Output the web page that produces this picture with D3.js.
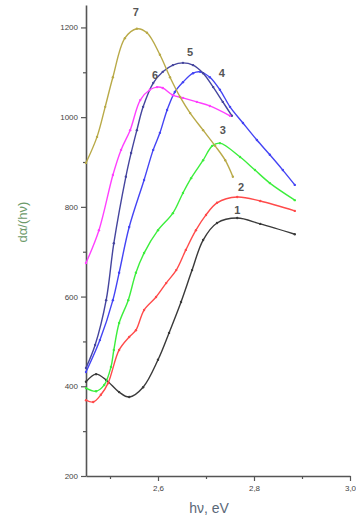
<!DOCTYPE html>
<html>
<head>
<script src="https://cdnjs.cloudflare.com/ajax/libs/d3/7.8.5/d3.min.js"></script>
<style>
  body { margin: 0; background: #fff; }
</style>
</head>
<body>
<div id="chart"></div>
<script>
// energy (eV) / dα/(hν) readings for each curve
var curveNames = ["1", "2", "3", "4", "5", "6", "7"];
var curveColors = ["#3a3a3a", "#ff4a4a", "#3cee3c", "#4444f4", "#45459e", "#ff40ff", "#b9aa48"];

var x1 = [2.450, 2.471, 2.492, 2.519, 2.540, 2.569, 2.600, 2.623, 2.648, 2.671, 2.694, 2.723, 2.765, 2.813, 2.885];
var y1 = [410, 427, 414, 387, 376, 398, 459, 519, 588, 659, 726, 764, 775, 762, 739];

var x2 = [2.450, 2.465, 2.481, 2.496, 2.519, 2.540, 2.554, 2.571, 2.596, 2.617, 2.638, 2.658, 2.679, 2.700, 2.723, 2.765, 2.813, 2.885];
var y2 = [369, 365, 381, 407, 481, 510, 525, 570, 599, 630, 659, 704, 748, 782, 809, 822, 813, 791];

var x3 = [2.450, 2.471, 2.488, 2.502, 2.508, 2.519, 2.538, 2.554, 2.571, 2.600, 2.631, 2.652, 2.669, 2.694, 2.713, 2.729, 2.771, 2.802, 2.833, 2.885];
var y3 = [396, 389, 403, 443, 481, 541, 592, 653, 697, 748, 786, 831, 864, 904, 936, 942, 911, 882, 853, 815];

var x4 = [2.450, 2.479, 2.506, 2.519, 2.540, 2.571, 2.590, 2.604, 2.619, 2.635, 2.652, 2.673, 2.688, 2.708, 2.729, 2.750, 2.777, 2.806, 2.833, 2.860, 2.885];
var y4 = [432, 503, 592, 653, 755, 860, 927, 965, 1016, 1056, 1078, 1098, 1101, 1089, 1061, 1023, 987, 949, 916, 882, 849];

var x5 = [2.450, 2.469, 2.492, 2.508, 2.533, 2.544, 2.556, 2.569, 2.590, 2.610, 2.631, 2.652, 2.673, 2.694, 2.715, 2.735, 2.754];
var y5 = [441, 492, 592, 719, 867, 920, 971, 1023, 1076, 1101, 1116, 1121, 1116, 1098, 1067, 1034, 1003];

var x6 = [2.450, 2.477, 2.506, 2.523, 2.542, 2.563, 2.583, 2.598, 2.610, 2.631, 2.652, 2.681, 2.708, 2.750];
var y6 = [675, 748, 871, 927, 971, 1038, 1061, 1067, 1065, 1049, 1043, 1034, 1025, 1003];

var x7 = [2.450, 2.473, 2.490, 2.506, 2.531, 2.556, 2.577, 2.604, 2.625, 2.646, 2.667, 2.694, 2.719, 2.740, 2.756];
var y7 = [898, 956, 1023, 1089, 1176, 1197, 1188, 1139, 1089, 1045, 1009, 971, 936, 904, 867];

// where the curve numbers sit, in data units
var labelX = [2.765, 2.773, 2.735, 2.733, 2.667, 2.594, 2.554];
var labelY = [793, 844, 971, 1098, 1145, 1094, 1234];

var xMajor = [2.6, 2.8, 3.0];
var xMinor = [2.5, 2.7, 2.9];
var yMajor = [200, 400, 600, 800, 1000, 1200];
var yMinor = [300, 500, 700, 900, 1100];

var allX = [x1, x2, x3, x4, x5, x6, x7];
var allY = [y1, y2, y3, y4, y5, y6, y7];

var width = 356, height = 527;

var x = d3.scaleLinear().domain([2.45, 3.0]).range([86, 350]);
var y = d3.scaleLinear().domain([200, 1250]).range([476, 5]);

var svg = d3.select("#chart").append("svg")
    .attr("width", width)
    .attr("height", height)
    .style("font-family", "'Liberation Sans', Arial, sans-serif");

// axes
var xAxis = svg.append("g")
    .attr("transform", "translate(0," + y(200) + ")")
    .call(d3.axisBottom(x).tickValues(xMajor).tickSize(5).tickSizeOuter(0)
        .tickFormat(function(d) { return d.toFixed(1).replace(".", ","); }));
svg.append("g")
    .attr("transform", "translate(0," + y(200) + ")")
    .call(d3.axisBottom(x).tickValues(xMinor).tickSize(3).tickFormat(""))
    .select(".domain").remove();

var yAxis = svg.append("g")
    .attr("transform", "translate(" + x(2.45) + ",0)")
    .call(d3.axisLeft(y).tickValues(yMajor).tickSize(5).tickSizeOuter(0)
        .tickFormat(d3.format("d")));
svg.append("g")
    .attr("transform", "translate(" + x(2.45) + ",0)")
    .call(d3.axisLeft(y).tickValues(yMinor).tickSize(3).tickFormat(""))
    .select(".domain").remove();

svg.selectAll(".domain").attr("stroke", "#555").attr("stroke-width", 1.6);
svg.selectAll(".tick line").attr("stroke", "#555").attr("stroke-width", 1.2);
svg.selectAll(".tick text").attr("fill", "#444").attr("font-size", "8px");
xAxis.selectAll(".tick text").attr("dy", "0.9em");

// curves
var line = d3.line()
    .x(function(d) { return x(d[0]); })
    .y(function(d) { return y(d[1]); })
    .curve(d3.curveCatmullRom);

for (var i = 0; i < curveNames.length; i++) {
  var pts = d3.zip(allX[i], allY[i]);
  svg.append("path")
      .datum(pts)
      .attr("d", line)
      .attr("fill", "none")
      .attr("stroke", curveColors[i])
      .attr("stroke-width", 1.4);

  svg.append("g").selectAll("circle")
      .data(pts)
      .enter()
      .append("circle")
      .attr("cx", function(d) { return x(d[0]); })
      .attr("cy", function(d) { return y(d[1]); })
      .attr("r", 1.2)
      .attr("fill", curveColors[i]);

  svg.append("text")
      .attr("x", x(labelX[i]))
      .attr("y", y(labelY[i]))
      .attr("dy", "0.35em")
      .attr("text-anchor", "middle")
      .attr("font-size", "11px")
      .attr("font-weight", "bold")
      .attr("fill", "#555")
      .text(curveNames[i]);
}

// axis titles
svg.append("text")
    .attr("transform", "translate(27,222) rotate(-90)")
    .attr("text-anchor", "middle")
    .attr("font-size", "13px")
    .attr("fill", "#6c9a6a")
    .text("dα/(hν)");

svg.append("text")
    .attr("x", 209)
    .attr("y", 513)
    .attr("text-anchor", "middle")
    .attr("font-size", "14px")
    .attr("fill", "#5a6878")
    .text("hν, eV");
</script>
</body>
</html>
